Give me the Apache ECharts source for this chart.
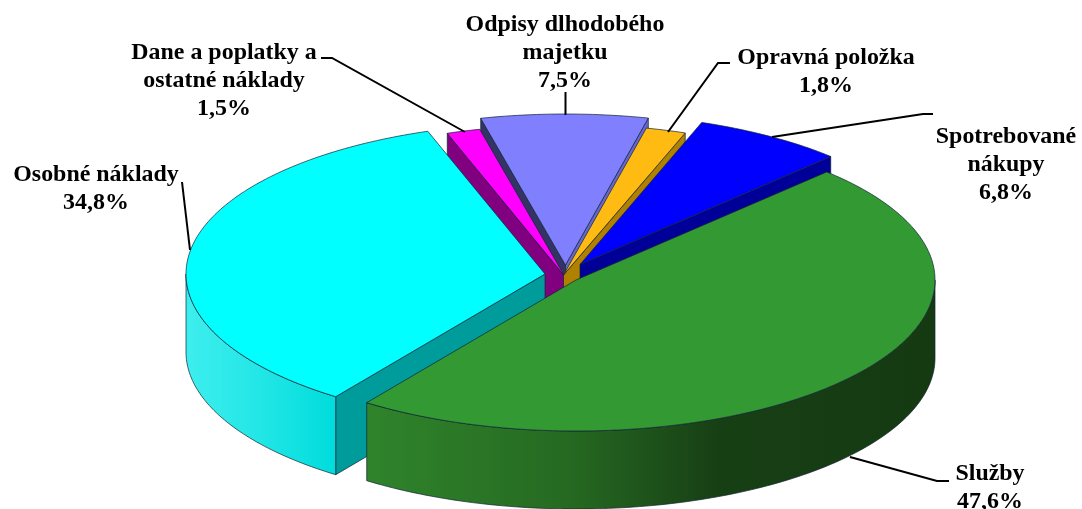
<!DOCTYPE html>
<html><head><meta charset="utf-8">
<style>html,body{margin:0;padding:0;background:#fff}#c{width:1082px;height:509px}</style>
<script src="https://cdn.jsdelivr.net/npm/echarts@6/dist/echarts.min.js"></script>
</head><body><div id="c"></div>
<script>
// --- data (clockwise from the Služby slice) ---
const categories = ['Služby', 'Osobné náklady', 'Dane a poplatky a\nostatné náklady', 'Odpisy dlhodobého\nmajetku', 'Opravná položka', 'Spotrebované\nnákupy'];
const values = [47.6, 34.8, 1.5, 7.5, 1.8, 6.8];

// --- styling and layout ---
const topColors = ['#339933', '#00ffff', '#ff00ff', '#8080ff', '#ffbb11', '#0000ff'];
const startCut = ['#266a22', '#009c9c', '#800080', '#333366', '#b08000', '#000099'];
const endCut = ['#266a22', '#009c9c', '#800080', '#6666cc', '#b08000', '#000099'];
const rimStops = [
  [[0, '#2f842b'], [0.35, '#266a22'], [0.62, '#173f14'], [1, '#153a12']],
  [[0, '#3eeeee'], [0.5, '#22e6e6'], [1, '#00dcdc']],
  [[0, '#800080'], [1, '#800080']], [[0, '#333366'], [1, '#333366']],
  [[0, '#b08000'], [1, '#b08000']], [[0, '#000099'], [1, '#000099']]
];
const pieCentres = [[576, 280], [545, 274], [564.5, 276], [565.5, 265], [563.5, 275], [580, 264.5]];
const paintOrder = [3, 2, 4, 5, 1, 0];
const RX = 359, RY = 151, DEPTH = 78, START_DEG = -45.7;
const labelCentres = [[990, 460], [96, 161], [224, 39], [565, 11], [826, 44], [1006, 123]];
const leaders = [
  [[949, 481], [937, 481], [850, 457]],
  [[182, 182], [190, 250]],
  [[321, 58], [332, 58], [465, 132]],
  [[565.5, 92], [565.5, 115]],
  [[730, 63], [718, 63], [668, 132]],
  [[933, 114], [923, 114], [772, 137]]
];
const FONT_SIZE = 23, LINE_H = 28, STRETCH = 1.04;

const total = values.reduce((a, b) => a + b, 0);
const spans = values.map(v => v / total * 360);
const starts = spans.map((_, i) => START_DEG + spans.slice(0, i).reduce((a, b) => a + b, 0));
const rad = d => d * Math.PI / 180;
const pt = (c, d) => [c[0] + RX * Math.cos(rad(d)), c[1] + RY * Math.sin(rad(d))];
const down = p => [p[0], p[1] + DEPTH];
const arc = (c, a, b) => { const o = [], n = Math.max(2, Math.ceil(b - a)); for (let k = 0; k <= n; k++) o.push(pt(c, a + (b - a) * k / n)); return o; };
const edge = { stroke: '#123', lineWidth: 0.7, lineJoin: 'round' };

function slicePieces(i) {
  const c = pieCentres[i], a = starts[i], b = a + spans[i], out = [];
  const poly = (points, fill) => out.push({ type: 'polygon', shape: { points }, style: Object.assign({ fill }, edge), silent: true });
  const cut = (d, col) => { const p = pt(c, d); poly([c, p, down(p), down(c)], col); };
  // a cut face is only drawn when it faces the viewer
  if (Math.cos(rad(a)) < 0) cut(a, startCut[i]);
  if (Math.cos(rad(b)) > 0) cut(b, endCut[i]);
  // visible outer rim: the part of the arc facing the viewer (sin > 0)
  for (const shift of [0, 360]) {
    const lo = Math.max(a, shift), hi = Math.min(b, shift + 180);
    if (hi > lo) {
      const rim = arc(c, lo, hi);
      const grad = new echarts.graphic.LinearGradient(0, 0, 1, 0, rimStops[i].map(s => ({ offset: s[0], color: s[1] })));
      poly(rim.concat(rim.slice().reverse().map(down)), grad);
    }
  }
  poly([c].concat(arc(c, a, b)), topColors[i]);
  return out;
}

const pctText = v => v.toFixed(1).replace('.', ',') + '%';

const option = {
  backgroundColor: '#fff',
  animation: false,
  series: [
    {
      type: 'custom', coordinateSystem: 'none', silent: true,
      data: paintOrder.map(i => [i, values[i]]),
      renderItem: (p, api) => ({ type: 'group', children: slicePieces(api.value(0)) })
    },
    {
      type: 'custom', coordinateSystem: 'none', silent: true, z: 5,
      data: categories.map((_, i) => [i]),
      renderItem: (p, api) => {
        const i = api.value(0);
        return { type: 'group', children: [
          { type: 'polyline', shape: { points: leaders[i] }, style: { stroke: '#000', lineWidth: 2, fill: null }, silent: true },
          { type: 'text', x: labelCentres[i][0], y: labelCentres[i][1], scaleX: STRETCH, silent: true,
            style: { text: categories[i] + '\n' + pctText(values[i]), fill: '#000', align: 'center', verticalAlign: 'top',
              font: 'bold ' + FONT_SIZE + 'px "Liberation Serif"', lineHeight: LINE_H } }
        ] };
      }
    }
  ]
};
echarts.init(document.getElementById('c')).setOption(option);
</script></body></html>
